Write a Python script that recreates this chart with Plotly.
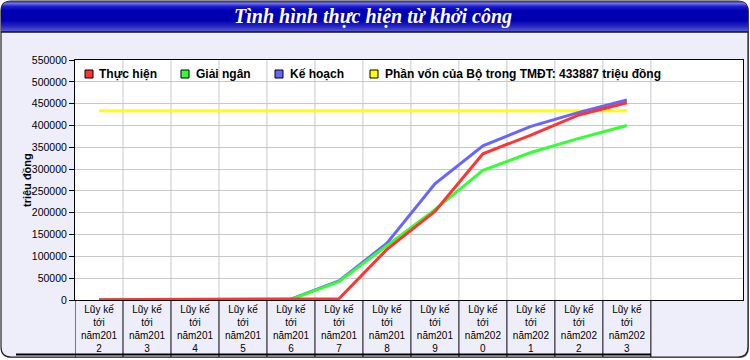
import plotly.graph_objects as go
import math

# ---------------- data ----------------
tick_labels = ["Lũy kế<br>tới<br>năm201<br>2", "Lũy kế<br>tới<br>năm201<br>3", "Lũy kế<br>tới<br>năm201<br>4",
               "Lũy kế<br>tới<br>năm201<br>5", "Lũy kế<br>tới<br>năm201<br>6", "Lũy kế<br>tới<br>năm201<br>7",
               "Lũy kế<br>tới<br>năm201<br>8", "Lũy kế<br>tới<br>năm201<br>9", "Lũy kế<br>tới<br>năm202<br>0",
               "Lũy kế<br>tới<br>năm202<br>1", "Lũy kế<br>tới<br>năm202<br>2", "Lũy kế<br>tới<br>năm202<br>3"]
thuc_hien = [500, 1000, 1500, 2000, 2500, 3000, 116000, 203000, 335000, 378000, 424000, 452000]
giai_ngan = [0, 0, 0, 500, 1500, 42000, 124000, 207000, 297000, 338000, 370500, 400000]
ke_hoach = [0, 0, 0, 500, 2000, 43500, 130000, 266000, 353500, 398000, 430000, 458500]
phan_von = [433887] * 12

series_names = ["Thực hiện", "Giải ngân", "Kế hoạch", "Phần vốn của Bộ trong TMĐT: 433887 triệu đồng"]
series_colors = ["#ff3333", "#33ff33", "#6666ff", "#ffff00"]
title_text = "Tình hình thực hiện từ khởi công"
y_title = "triệu đồng"

# ---------------- layout helpers ----------------
W, H = 750, 360
L, R, T, B = 75, 743, 60, 300


def px(x):
    return (x - L) / (R - L)


def py(y):
    return (B - y) / (B - T)


FONT = "Liberation Sans, Arial, sans-serif"

fig = go.Figure()
idx = list(range(len(tick_labels)))
# draw order: yellow, blue, green, red
for vals, col in [(phan_von, series_colors[3]), (ke_hoach, series_colors[2]),
                  (giai_ngan, series_colors[1]), (thuc_hien, series_colors[0])]:
    fig.add_trace(go.Scatter(x=idx, y=vals, mode="lines", line=dict(color=col, width=3),
                             showlegend=False, hoverinfo="skip"))

shapes = []
annotations = []

# outer rounded frame
r = 10
x0, y0, x1, y1 = 1, 1, 748, 357


def rpath(x0, y0, x1, y1, r):
    return (f"M {px(x0 + r)},{py(y0)} L {px(x1 - r)},{py(y0)} Q {px(x1)},{py(y0)} {px(x1)},{py(y0 + r)} "
            f"L {px(x1)},{py(y1 - r)} Q {px(x1)},{py(y1)} {px(x1 - r)},{py(y1)} "
            f"L {px(x0 + r)},{py(y1)} Q {px(x0)},{py(y1)} {px(x0)},{py(y1 - r)} "
            f"L {px(x0)},{py(y0 + r)} Q {px(x0)},{py(y0)} {px(x0 + r)},{py(y0)} Z")


shapes.append(dict(type="path", xref="paper", yref="paper", layer="below",
                   path=rpath(x0 + 1, y0 + 1, x1 + 1, y1 + 1, r),
                   fillcolor="#777777", line=dict(width=0)))
shapes.append(dict(type="path", xref="paper", yref="paper", layer="below",
                   path=rpath(x0, y0, x1, y1, r),
                   fillcolor="#EEEEFB", line=dict(color="#222222", width=1.2)))
# white plot area
shapes.append(dict(type="rect", xref="paper", yref="paper", layer="below",
                   x0=0, x1=1, y0=0, y1=1, fillcolor="white", line=dict(width=0)))

# title bar gradient bands
stops = [(1, (60, 60, 150)), (3, (110, 110, 235)), (6, (30, 30, 205)), (10, (0, 0, 180)),
         (20, (0, 0, 176)), (26, (40, 40, 195)), (31, (90, 90, 215))]


def col_at(y):
    for (ya, ca), (yb, cb) in zip(stops[:-1], stops[1:]):
        if ya <= y <= yb:
            t = (y - ya) / (yb - ya)
            return tuple(int(ca[i] + (cb[i] - ca[i]) * t) for i in range(3))
    return stops[-1][1]


for yy in range(1, 32):
    yc = yy + 0.5
    d = (y0 + r) - yc
    inset = r - math.sqrt(max(r * r - d * d, 0)) if d > 0 else 0
    c = col_at(yy)
    shapes.append(dict(type="rect", xref="paper", yref="paper", layer="below",
                       x0=px(x0 + inset), x1=px(x1 - inset), y0=py(yy), y1=py(yy + 1),
                       fillcolor=f"rgb{c}", line=dict(width=0)))
shapes.append(dict(type="line", xref="paper", yref="paper", layer="below",
                   x0=px(x0), x1=px(x1), y0=py(32), y1=py(32), line=dict(color="#111111", width=1.5)))

annotations.append(dict(xref="paper", yref="paper", x=px(373), y=py(17), text=f"<b><i>{title_text}</i></b>",
                        showarrow=False, xanchor="center", yanchor="middle",
                        font=dict(family="Liberation Serif, Times New Roman, serif", size=20, color="white")))

# table lines under the category axis
for k in range(len(tick_labels) + 1):
    shapes.append(dict(type="line", xref="x", yref="paper", x0=k - 0.5, x1=k - 0.5, y0=0, y1=py(357),
                       line=dict(color="black", width=1)))
shapes.append(dict(type="line", xref="paper", yref="paper", x0=px(16), x1=px(651), y0=py(354.5), y1=py(354.5),
                   line=dict(color="black", width=2)))

# manual legend
leg_sq_x = [85, 181, 275, 370]
leg_tx_x = [97, 194, 288, 383]
for name, col, sx, tx in zip(series_names, series_colors, leg_sq_x, leg_tx_x):
    shapes.append(dict(type="rect", xref="paper", yref="paper", x0=px(sx), x1=px(sx + 8),
                       y0=py(70), y1=py(78), fillcolor=col, line=dict(color="black", width=1)))
    annotations.append(dict(xref="paper", yref="paper", x=px(tx), y=py(74), text=f"<b>{name}</b>",
                            showarrow=False, xanchor="left", yanchor="middle",
                            font=dict(family=FONT, size=12, color="black")))

# y axis title
annotations.append(dict(xref="paper", yref="paper", x=px(27), y=py(180), text=f"<b>{y_title}</b>",
                        textangle=-90, showarrow=False, xanchor="center", yanchor="middle",
                        font=dict(family=FONT, size=11, color="black")))

fig.update_layout(
    width=W, height=H,
    margin=dict(l=L, r=W - R, t=T, b=H - B, pad=0, autoexpand=False),
    paper_bgcolor="white", plot_bgcolor="white",
    showlegend=False,
    shapes=shapes, annotations=annotations,
    font=dict(family=FONT, color="black"),
    xaxis=dict(type="linear", range=[-0.5, 13.42], tickmode="array", tickvals=idx, ticktext=tick_labels,
               showgrid=False, zeroline=False, showline=True, linecolor="black", linewidth=1, mirror=True,
               ticks="", tickfont=dict(size=10, family=FONT, color="black"), fixedrange=True,
               automargin=False),
    yaxis=dict(range=[0, 550000], dtick=50000, tick0=0, tickformat="d",
               showgrid=True, gridcolor="#c8c8c8", gridwidth=1, zeroline=False,
               showline=True, linecolor="black", linewidth=1, mirror=True,
               ticks="outside", ticklen=5, tickcolor="black",
               tickfont=dict(size=10.5, family=FONT, color="black"), fixedrange=True,
               automargin=False),
)
# vertical grid lines at category boundaries
for k in range(1, len(tick_labels) + 1):
    fig.add_shape(type="line", xref="x", yref="paper", x0=k - 0.5, x1=k - 0.5, y0=0, y1=1,
                  layer="below", line=dict(color="#c8c8c8", width=1))

fig.write_html("out.html", config={"displayModeBar": False},
               post_script="document.body.style.margin='0';document.body.style.overflow='hidden';")
